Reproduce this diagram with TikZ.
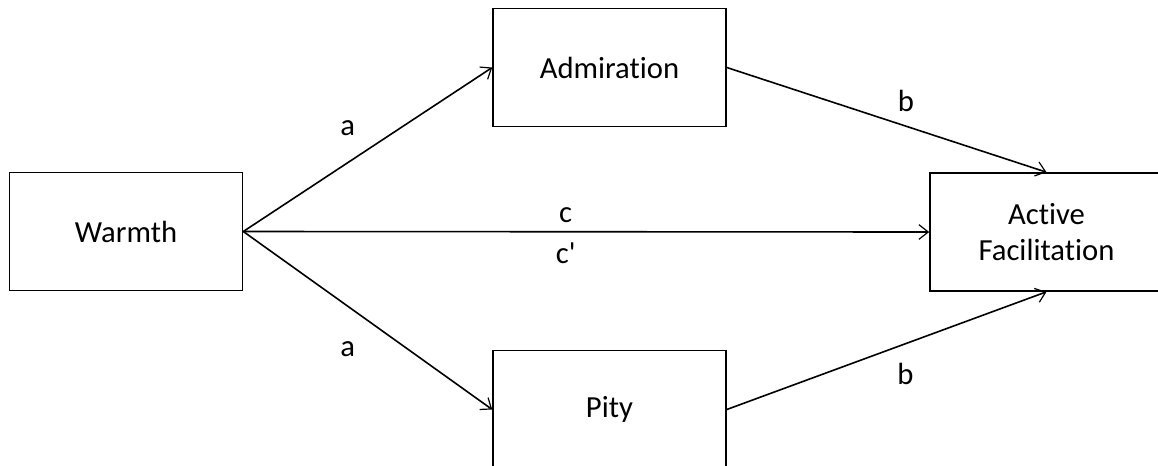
\documentclass[tikz,border=0pt]{standalone}
\usepackage{fontspec}
\setmainfont{Carlito}[Ligatures={NoCommon,TeXOff}]
\usetikzlibrary{arrows.meta}
\begin{document}
\begin{tikzpicture}[x=0.75pt,y=-0.75pt,line width=1.2pt,
  >={Straight Barb[length=7pt,width=11pt,line width=0.9pt]},
  factor/.style={draw,rectangle,minimum width=174.75pt,minimum height=88.5pt,
    align=center,font=\fontsize{23}{27}\selectfont},
  coef/.style={font=\fontsize{23}{27}\selectfont,inner sep=6pt}]
  \useasboundingbox (0,0) rectangle (1158,465);
  \clip (0,0) rectangle (1158,465);
  % Variables
  \node[factor] (W) at (126,231.5) {Warmth};
  \node[factor] (Ad) at (609.5,67.5) {Admiration};
  \node[factor] (P) at (609.5,409.5) {Pity};
  \node[factor] (AF) at (1046.5,232) {Active\\Facilitation};

  % Paths
  \draw[->] (W.east) -- (Ad.west) node[coef,midway,above left,xshift=-3pt,yshift=4pt] {a};
  \draw[->] (W.east) -- (P.west) node[coef,midway,below left,xshift=-3pt,yshift=-9pt] {a};
  \draw[->] (W.east) -- (AF.west) node[coef,pos=0.47,above] {c}
    node[coef,pos=0.47,below,yshift=-1.5pt] {c'};
  \draw[->] (Ad.east) -- (AF.north) node[coef,pos=0.56,above,yshift=4.5pt] {b};
  \draw[->] (P.east) -- (AF.south) node[coef,pos=0.56,below right,xshift=-13pt,yshift=-8pt] {b};
\end{tikzpicture}
\end{document}
